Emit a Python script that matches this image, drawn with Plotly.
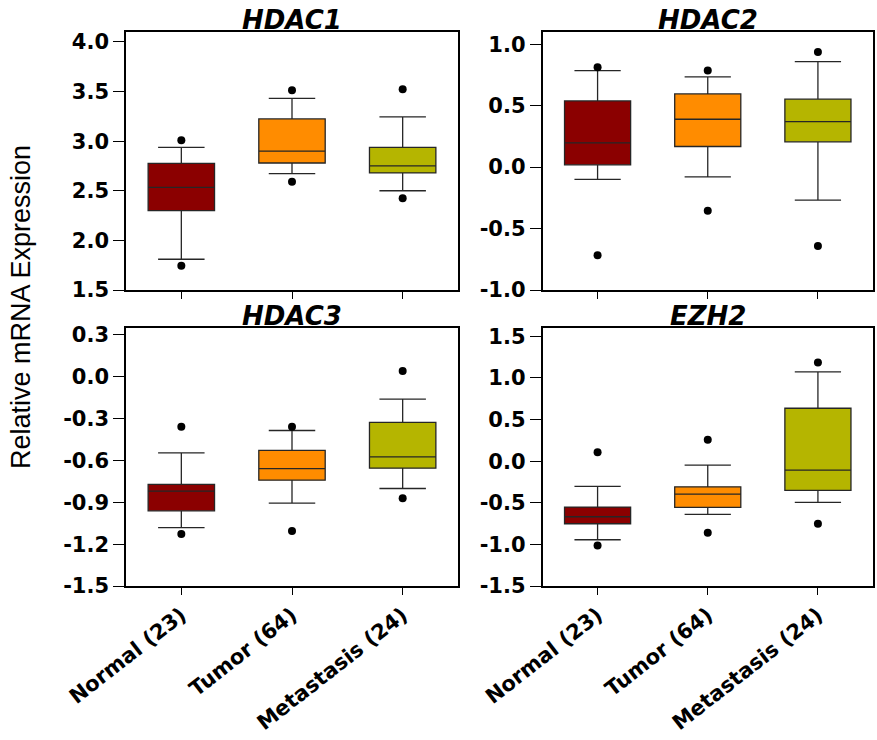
import plotly.graph_objects as go

categories = ["Normal (23)", "Tumor (64)", "Metastasis (24)"]
colors = ["#8B0000", "#FF8C00", "#B5B500"]
panel_titles = ["HDAC1", "HDAC2", "HDAC3", "EZH2"]

# per panel: lists over categories
hdac1_q1 = [2.30, 2.78, 2.68]
hdac1_med = [2.535, 2.90, 2.75]
hdac1_q3 = [2.777, 3.224, 2.938]
hdac1_lw = [1.81, 2.673, 2.50]
hdac1_uw = [2.938, 3.432, 3.244]
hdac1_lo = [1.745, 2.592, 2.424]
hdac1_hi = [3.01, 3.513, 3.523]

hdac2_q1 = [0.019, 0.168, 0.206]
hdac2_med = [0.198, 0.390, 0.371]
hdac2_q3 = [0.539, 0.596, 0.553]
hdac2_lw = [-0.100, -0.079, -0.268]
hdac2_uw = [0.786, 0.734, 0.859]
hdac2_lo = [-0.718, -0.355, -0.642]
hdac2_hi = [0.813, 0.786, 0.938]

hdac3_q1 = [-0.961, -0.741, -0.655]
hdac3_med = [-0.820, -0.658, -0.574]
hdac3_q3 = [-0.772, -0.528, -0.327]
hdac3_lw = [-1.081, -0.906, -0.801]
hdac3_uw = [-0.545, -0.385, -0.160]
hdac3_lo = [-1.127, -1.105, -0.870]
hdac3_hi = [-0.358, -0.358, 0.041]

ezh2_q1 = [-0.752, -0.556, -0.352]
ezh2_med = [-0.668, -0.396, -0.108]
ezh2_q3 = [-0.552, -0.308, 0.636]
ezh2_lw = [-0.944, -0.640, -0.496]
ezh2_uw = [-0.304, -0.048, 1.072]
ezh2_lo = [-1.012, -0.860, -0.752]
ezh2_hi = [0.108, 0.256, 1.184]

ticks1 = [1.5, 2.0, 2.5, 3.0, 3.5, 4.0]
ticks2 = [-1.0, -0.5, 0.0, 0.5, 1.0]
ticks3 = [-1.5, -1.2, -0.9, -0.6, -0.3, 0.0, 0.3]
ticks4 = [-1.5, -1.0, -0.5, 0.0, 0.5, 1.0, 1.5]

panels = [
    (hdac1_q1, hdac1_med, hdac1_q3, hdac1_lw, hdac1_uw, hdac1_lo, hdac1_hi, ticks1, [1.5, 4.1]),
    (hdac2_q1, hdac2_med, hdac2_q3, hdac2_lw, hdac2_uw, hdac2_lo, hdac2_hi, ticks2, [-1.0, 1.1]),
    (hdac3_q1, hdac3_med, hdac3_q3, hdac3_lw, hdac3_uw, hdac3_lo, hdac3_hi, ticks3, [-1.5, 0.35]),
    (ezh2_q1, ezh2_med, ezh2_q3, ezh2_lw, ezh2_uw, ezh2_lo, ezh2_hi, ticks4, [-1.5, 1.6]),
]

W, H = 877, 740
xdoms = [[126 / W, 458 / W], [542.5 / W, 873 / W]]
ydoms = [[1 - 290 / H, 1 - 32 / H], [1 - 586 / H, 1 - 328 / H]]

fig = go.Figure()
tick_font = dict(family="DejaVu Sans", size=21, color="black", weight="bold")
cat_font = dict(family="DejaVu Sans", size=21, color="black", weight="bold")

for p, (q1, med, q3, lw, uw, lo, hi, tv, rng) in enumerate(panels):
    ax = "" if p == 0 else str(p + 1)
    xa, ya = "x" + ax, "y" + ax
    for i, cat in enumerate(categories):
        fig.add_trace(go.Box(
            x=[cat], q1=[q1[i]], median=[med[i]], q3=[q3[i]],
            lowerfence=[lw[i]], upperfence=[uw[i]],
            fillcolor=colors[i], line=dict(color="#262626", width=1.3),
            width=0.6, whiskerwidth=0.7, boxpoints=False,
            xaxis=xa, yaxis=ya, showlegend=False, hoverinfo="skip"))
        fig.add_trace(go.Scatter(
            x=[cat, cat], y=[lo[i], hi[i]], mode="markers",
            marker=dict(color="black", size=8),
            xaxis=xa, yaxis=ya, showlegend=False, hoverinfo="skip"))
    row, col = p // 2, p % 2
    xkey = "xaxis" + ax
    ykey = "yaxis" + ax
    fig.layout[xkey] = dict(
        domain=xdoms[col], anchor=ya, type="category", automargin=False,
        categoryorder="array", categoryarray=categories,
        range=[-0.5, 2.5], showline=True, mirror=True, linecolor="black",
        linewidth=1.5, ticks="outside", ticklen=7, tickwidth=1.3, tickcolor="black",
        showgrid=False, zeroline=False, showticklabels=(row == 1),
        tickangle=-38, tickfont=cat_font)
    fig.layout[ykey] = dict(
        domain=ydoms[row], anchor=xa, range=rng, tickvals=tv, automargin=False,
        ticktext=["%.1f" % v for v in tv],
        showline=True, mirror=True, linecolor="black", linewidth=1.5,
        ticks="outside", ticklen=11, tickwidth=1.3, tickcolor="black",
        showgrid=False, zeroline=False, tickfont=tick_font)
    fig.add_annotation(
        text="<b><i>%s</i></b>" % panel_titles[p], xref="paper", yref="paper",
        x=(xdoms[col][0] + xdoms[col][1]) / 2,
        y=ydoms[row][1] + 12 / H, xanchor="center", yanchor="middle",
        showarrow=False, font=dict(family="DejaVu Sans", size=26, color="black"))

fig.add_annotation(
    text="Relative mRNA Expression", xref="paper", yref="paper",
    x=21 / W, y=1 - 307 / H, xanchor="center", yanchor="middle",
    textangle=-90, showarrow=False,
    font=dict(family="Liberation Sans", size=27, color="black"))

fig.update_layout(
    width=W, height=H, margin=dict(l=0, r=0, t=0, b=0),
    paper_bgcolor="white", plot_bgcolor="white", boxmode="overlay",
    showlegend=False)

fig.write_html("out.html")
